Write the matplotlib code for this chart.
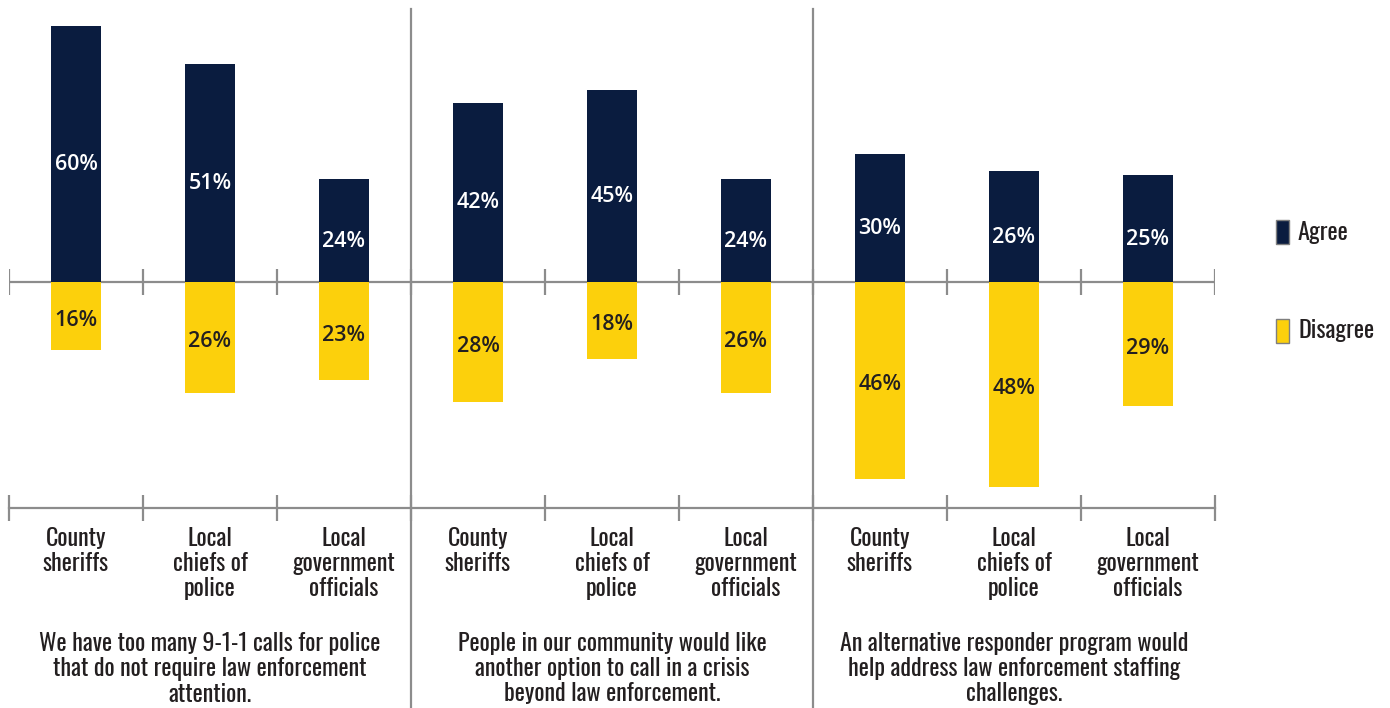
import matplotlib
matplotlib.use("Agg")
import matplotlib.pyplot as plt
from matplotlib import font_manager
from matplotlib.patches import Rectangle

# survey results, percent of respondents
respondents = ["County\nsheriffs", "Local\nchiefs of\npolice", "Local\ngovernment\nofficials"] * 3
agree = [60, 51, 24, 42, 45, 24, 30, 26, 25]
disagree = [16, 26, 23, 28, 18, 26, 46, 48, 29]
statements = [
    "We have too many 9-1-1 calls for police\nthat do not require law enforcement\nattention.",
    "People in our community would like\nanother option to call in a crisis\nbeyond law enforcement.",
    "An alternative responder program would\nhelp address law enforcement staffing\nchallenges.",
]

navy = "#0a1c3f"
gold = "#fcd00c"
ink = "#231f20"
grid = "#8c8c8c"

# condensed face for the labels
names = {f.name for f in font_manager.fontManager.ttflist}
narrow = "DejaVu Sans"
for cand in ["Oswald", "Roboto Condensed", "Archivo Narrow", "Asap Condensed"]:
    if cand in names:
        narrow = cand
        break

fig = plt.figure(figsize=(13.9, 7.08), dpi=100)
ax = fig.add_axes([0.00647, 0.2825, 0.8676, 0.7048])
ax.set_xlim(-0.5, 8.5)
ax.set_ylim(-52.9, 63.9)
ax.axis("off")

x = list(range(len(agree)))
neg = [-d for d in disagree]
ax.bar(x, agree, width=0.37, color=navy, zorder=3)
ax.bar(x, neg, width=0.37, color=gold, zorder=3)

for xi, a, d in zip(x, agree, disagree):
    ax.text(xi, a / 2 - 2.5, f"{a}%", color="white", ha="center", va="center",
            fontsize=15.5, fontweight="semibold", family="Open Sans", zorder=4)
    ax.text(xi, -d / 2 - 1, f"{d}%", color=ink, ha="center", va="center",
            fontsize=15.5, fontweight="semibold", family="Open Sans", zorder=4)

# zero line and bottom baseline with tick marks
ybot = ax.get_ylim()[0]
ax.axhline(0, color=grid, lw=1.6, zorder=2)
ax.axhline(ybot, color=grid, lw=1.6, zorder=2, clip_on=False)
ticks = [t - 0.5 for t in range(10)]
ax.vlines(ticks, -3.1, 3.1, color=grid, lw=1.6, zorder=2)
ax.vlines(ticks, ybot - 3.1, ybot + 3.1, color=grid, lw=1.6, zorder=2, clip_on=False)

# group dividers run to the bottom of the figure
for xd in [2.5, 5.5]:
    ax.axvline(xd, ymin=-0.42, ymax=1, color=grid, lw=1.6, clip_on=False, zorder=2)

tr = ax.get_xaxis_transform()
for xi, lab in zip(x, respondents):
    ax.text(xi, -0.038, lab, transform=tr, ha="center", va="top", fontsize=17.3,
            family=narrow, fontweight="light", color=ink, linespacing=1.1)

for g, s in enumerate(statements):
    ax.text(3 * g + 1, -0.249, s, transform=tr, ha="center", va="top", fontsize=17.3,
            family=narrow, fontweight="light", color=ink, linespacing=1.1)

# legend
for yk, col, lab in [(232, navy, "Agree"), (331, gold, "Disagree")]:
    fig.add_artist(Rectangle((1276 / 1390, 1 - (yk + 12) / 708), 13 / 1390, 24 / 708,
                             transform=fig.transFigure, facecolor=col,
                             edgecolor="#7f7f7f", lw=1))
    fig.text(1298 / 1390, 1 - yk / 708, lab, ha="left", va="center", fontsize=17.5,
             family=narrow, fontweight="light", color=ink)

fig.savefig("out.png", dpi=100, facecolor="white")
